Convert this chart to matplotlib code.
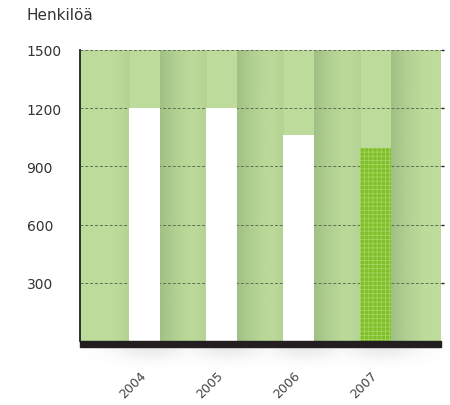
import numpy as np
import matplotlib
matplotlib.use("Agg")
import matplotlib.pyplot as plt
from matplotlib.patches import Rectangle
from matplotlib.colors import to_rgb

years = ["2004", "2005", "2006", "2007"]
values = [1200, 1200, 1060, 993]
yticks = [300, 600, 900, 1200, 1500]
ylabel_text = "Henkilöä"

W, H = 450, 406
fig = plt.figure(figsize=(W / 100, H / 100), dpi=100)
fig.patch.set_facecolor("white")

ax_l, ax_r, ax_t, ax_b = 80, 441, 51, 342
ax = fig.add_axes([ax_l / W, 1 - ax_b / H, (ax_r - ax_l) / W, (ax_b - ax_t) / H])
bg = "#bddc9b"
ax.set_facecolor(bg)

x = np.arange(len(years))
bw = 0.40
ax.set_xlim(-0.838, 3.85)
ax.set_ylim(0, 1500)

# soft shadows around bars (gradient)
shade = to_rgb("#8fae76")
for xi in x:
    n = 64
    grad = np.zeros((2, n, 4))
    grad[..., :3] = shade
    grad[..., 3] = 0.6 * np.linspace(1.0, 0.0, n) ** 1.3
    ax.imshow(grad, extent=(xi + bw / 2, xi + bw / 2 + 0.45, 0, 1500),
              aspect="auto", zorder=1, interpolation="bilinear")
    grad2 = np.zeros((2, n, 4))
    grad2[..., :3] = shade
    grad2[..., 3] = 0.2 * np.linspace(0.0, 1.0, n) ** 1.5
    ax.imshow(grad2, extent=(xi - bw / 2 - 0.25, xi - bw / 2, 0, 1500),
              aspect="auto", zorder=1, interpolation="bilinear")

for t in yticks:
    ax.axhline(t, color="#5f6f56", lw=0.7, ls=(0, (3, 2)), zorder=2)

plt.rcParams["hatch.color"] = "#a3d55a"
plt.rcParams["hatch.linewidth"] = 0.6
for i, (xi, v) in enumerate(zip(x, values)):
    if i == len(values) - 1:
        ax.bar(xi, v, width=bw, color="#80be2c", hatch="++++", edgecolor="#a3d55a",
               linewidth=0, zorder=3)
    else:
        ax.bar(xi, v, width=bw, color="white", linewidth=0, zorder=3)

for s in ["top", "right", "bottom"]:
    ax.spines[s].set_visible(False)
ax.spines["left"].set_color("#222222")
ax.spines["left"].set_linewidth(1.3)

ax_h = ax_b - ax_t
ax.add_patch(Rectangle((0, -5.5 / ax_h), 1.0, 5.5 / ax_h, transform=ax.transAxes,
                       color="#231f20", clip_on=False, zorder=5))

# ground shadows under bars
sh_ax = fig.add_axes([0, 0, 1, 1], zorder=-1)
sh_ax.set_xlim(0, W)
sh_ax.set_ylim(H, 0)
sh_ax.axis("off")
yy, xx = np.mgrid[0:H, 0:W]
img = np.zeros((H, W, 4))
alpha = np.zeros((H, W))
for xi in x:
    cx = ax_l + (xi + 0.838) / (3.85 + 0.838) * (ax_r - ax_l) + 6
    d = ((xx - cx) / 55.0) ** 2 + ((yy - 349) / 16.0) ** 2
    alpha = np.maximum(alpha, 0.14 * np.exp(-d * 2.2) * (yy > 346))
img[..., :3] = 0.45
img[..., 3] = alpha
sh_ax.imshow(img, extent=(0, W, H, 0), zorder=0)

ax.set_xticks(x)
ax.set_xticklabels(years, rotation=45, ha="right", va="center", rotation_mode="anchor",
                   color="#444444", fontsize=9)
ax.tick_params(axis="x", length=0, pad=23)

ax.set_yticks(yticks)
ax.set_yticklabels([str(t) for t in yticks], color="#333333", fontsize=10, ha="left")
ax.tick_params(axis="y", pad=36, right=True, left=False, labelright=False,
               direction="out", length=2.5, width=1.0, color="#222222")

fig.text(26 / W, 1 - 16 / H, ylabel_text, fontsize=11, color="#333333", va="center", ha="left")

fig.savefig("out.png", dpi=100, facecolor="white")
